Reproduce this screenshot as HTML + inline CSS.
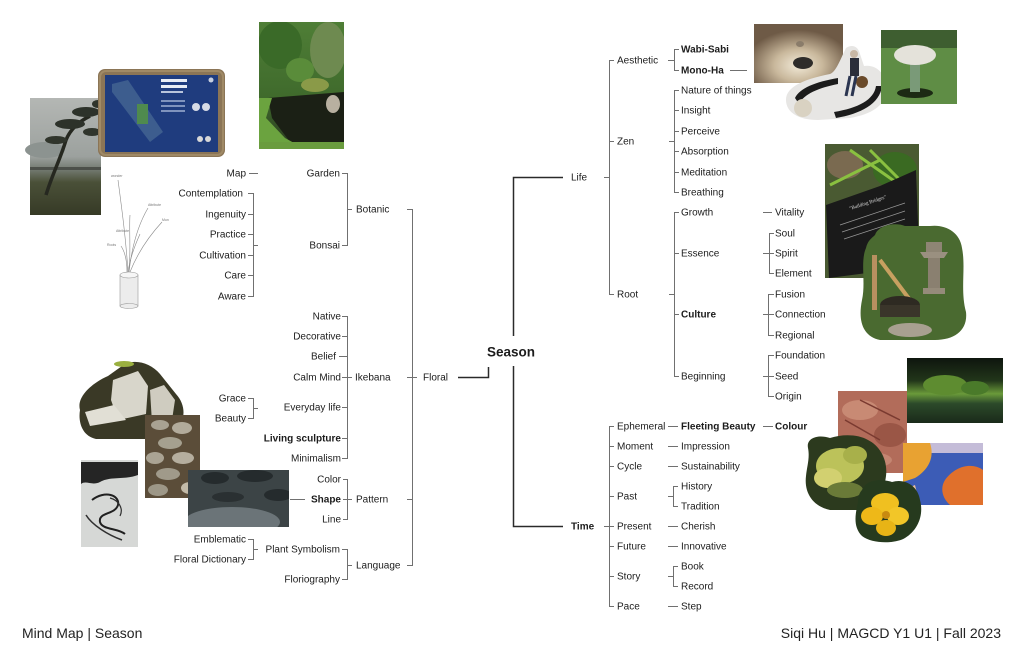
<!DOCTYPE html>
<html><head><meta charset="utf-8"><style>
html,body{margin:0;padding:0;background:#fff;}
svg{display:block}
.t{font-family:"Liberation Sans",sans-serif;font-size:10px;fill:#1c1c1c}
.b{font-weight:bold}
.e{text-anchor:end}
.g{stroke:#707070;stroke-width:1;fill:none}
.d{stroke:#2a2a2a;stroke-width:1.5;fill:none}
.s{stroke:#8a8a8a;stroke-width:0.6;fill:none}
.tiny{font-family:"Liberation Sans",sans-serif;font-size:3.5px;fill:#777}
.f{font-family:"Liberation Sans",sans-serif;font-size:14px;fill:#222}
</style></head><body>
<svg width="1024" height="663" viewBox="0 0 1024 663" xmlns="http://www.w3.org/2000/svg">
<defs>
<linearGradient id="gTree" x1="0" y1="0" x2="0" y2="1">
<stop offset="0" stop-color="#b4b7b4"/><stop offset="0.5" stop-color="#9ca19e"/><stop offset="0.62" stop-color="#6f766c"/><stop offset="0.72" stop-color="#4a5038"/><stop offset="1" stop-color="#363a26"/>
</linearGradient>
<radialGradient id="gRoom" cx="0.5" cy="0.7" r="0.6">
<stop offset="0" stop-color="#f2ead8"/><stop offset="0.45" stop-color="#c9b89c"/><stop offset="1" stop-color="#6e5a46"/>
</radialGradient>
<linearGradient id="gLake" x1="0" y1="0" x2="0" y2="1">
<stop offset="0" stop-color="#0e150e"/><stop offset="0.35" stop-color="#22361a"/><stop offset="0.55" stop-color="#6a9a3a"/><stop offset="0.7" stop-color="#2c4a2a"/><stop offset="1" stop-color="#1a2a1a"/>
</linearGradient>
<linearGradient id="gGarden" x1="0" y1="0" x2="0" y2="1">
<stop offset="0" stop-color="#4f7e36"/><stop offset="0.6" stop-color="#3f6a2c"/><stop offset="1" stop-color="#2a3a20"/>
</linearGradient>
<clipPath id="cLand"><rect x="188" y="470" width="101" height="57"/></clipPath>
<clipPath id="cGarden"><rect x="259" y="22" width="85" height="127"/></clipPath>
<clipPath id="cPaint"><rect x="903" y="443" width="80" height="62"/></clipPath>
<clipPath id="cPlaque"><rect x="825" y="144" width="94" height="134"/></clipPath>
<clipPath id="cMaple"><rect x="838" y="391" width="69" height="82"/></clipPath>
</defs>

<!-- ============ LEFT IMAGES ============ -->
<rect x="30" y="98" width="71" height="117" fill="url(#gTree)"/>
<ellipse cx="45" cy="150" rx="20" ry="8" fill="#8c9390"/>
<rect x="30" y="167" width="71" height="3" fill="#4c504a"/>
<path d="M46,195 C52,175 60,160 66,140 C70,130 78,122 90,116" stroke="#262820" stroke-width="3.5" fill="none"/>
<ellipse cx="70" cy="124" rx="15" ry="5" fill="#2d322a"/>
<ellipse cx="86" cy="112" rx="14" ry="5" fill="#2d322a"/>
<ellipse cx="56" cy="140" rx="11" ry="4" fill="#30352c"/>
<ellipse cx="92" cy="132" rx="9" ry="4" fill="#30352c"/>
<ellipse cx="98" cy="104" rx="6" ry="4" fill="#30352c"/>

<rect x="98" y="69" width="127" height="88" rx="7" fill="#8b7556"/>
<rect x="100" y="71" width="123" height="84" rx="6" fill="none" stroke="#a08a66" stroke-width="2"/>
<rect x="105" y="75" width="113" height="77" fill="#1f3c7e"/>
<polygon points="112,84 128,80 163,132 150,142 112,92" fill="#3d5d8e"/>
<rect x="137" y="104" width="11" height="20" fill="#4f8a4e"/>
<rect x="161" y="79" width="26" height="3" fill="#e8ecf4"/>
<rect x="161" y="85" width="26" height="3" fill="#e8ecf4"/>
<rect x="161" y="91" width="22" height="2" fill="#b8c4dc"/>
<rect x="161" y="100" width="24" height="2" fill="#7f93bd"/>
<rect x="161" y="105" width="24" height="2" fill="#7f93bd"/>
<rect x="161" y="110" width="24" height="2" fill="#7f93bd"/>
<circle cx="196" cy="107" r="4" fill="#d6dbe6"/>
<circle cx="206" cy="107" r="4" fill="#d6dbe6"/>
<circle cx="200" cy="139" r="3" fill="#d8d8d8"/>
<circle cx="208" cy="139" r="3" fill="#d8d8d8"/>
<circle cx="211" cy="80" r="2.5" fill="#c8d0e0"/>

<g clip-path="url(#cGarden)">
<rect x="259" y="22" width="85" height="127" fill="url(#gGarden)"/>
<ellipse cx="280" cy="45" rx="22" ry="24" fill="#3a6a28"/>
<ellipse cx="300" cy="70" rx="14" ry="12" fill="#5a8c3a"/>
<ellipse cx="328" cy="50" rx="18" ry="28" fill="#6e8a50"/>
<ellipse cx="315" cy="85" rx="14" ry="7" fill="#8a9a48"/>
<path d="M268,98 L344,92 L344,142 L290,142 L272,118 Z" fill="#1b2015"/>
<polygon points="259,98 272,98 266,118 285,138 305,149 259,149" fill="#6ba33f"/>
<rect x="259" y="142" width="85" height="7" fill="#6a9c3e"/>
<ellipse cx="333" cy="104" rx="7" ry="9" fill="#b8b0a0"/>
</g>

<path class="s" d="M128,272 C126,240 122,210 118,180"/>
<path class="s" d="M129,272 C132,245 138,225 148,208"/>
<path class="s" d="M130,272 C138,252 150,235 162,222"/>
<path class="s" d="M128,272 C130,258 135,245 140,234"/>
<path class="s" d="M127,272 C127,262 125,252 121,246"/>
<path class="s" d="M129,272 C131,250 129,230 130,215"/>
<text class="tiny" x="111" y="177">wonder</text>
<text class="tiny" x="148" y="206">Attribute</text>
<text class="tiny" x="162" y="221">Mun</text>
<text class="tiny" x="116" y="232">Attribute</text>
<text class="tiny" x="107" y="246">Roots</text>
<rect x="120" y="275" width="18" height="31" fill="#ececec" stroke="#999" stroke-width="0.6"/>
<ellipse cx="129" cy="275" rx="9" ry="3" fill="#f6f6f6" stroke="#999" stroke-width="0.6"/>
<ellipse cx="129" cy="306" rx="9" ry="2.5" fill="#ececec" stroke="#999" stroke-width="0.6"/>

<path d="M80,410 C76,396 94,382 108,376 L122,366 C132,358 150,362 160,374 L176,394 C186,405 186,420 176,430 L150,439 L96,439 C82,436 78,422 80,410Z" fill="#3a3926"/>
<ellipse cx="124" cy="364" rx="10" ry="3" fill="#9ab040"/>
<path d="M113,380 L138,371 L148,386 L146,414 L118,420 L111,400Z" fill="#d8d6cb"/>
<path d="M150,390 L164,385 L175,400 L172,420 L152,423Z" fill="#cfccc0"/>
<path d="M85,412 L114,405 L126,420 L90,426Z" fill="#e1dfd5"/>

<rect x="145" y="415" width="55" height="83" fill="#5b4d39"/>
<ellipse cx="160" cy="425" rx="9" ry="5" fill="#a9a292"/>
<ellipse cx="182" cy="428" rx="10" ry="6" fill="#b2ab9b"/>
<ellipse cx="170" cy="443" rx="12" ry="6" fill="#a5a08f"/>
<ellipse cx="155" cy="458" rx="9" ry="6" fill="#aaa393"/>
<ellipse cx="183" cy="458" rx="11" ry="6" fill="#b5ae9e"/>
<ellipse cx="168" cy="474" rx="12" ry="6" fill="#a09a8a"/>
<ellipse cx="190" cy="488" rx="9" ry="6" fill="#c2baa8"/>
<ellipse cx="158" cy="490" rx="10" ry="6" fill="#9d9787"/>

<g clip-path="url(#cLand)">
<rect x="188" y="470" width="101" height="57" fill="#3c4446"/>
<ellipse cx="215" cy="478" rx="14" ry="6" fill="#252b2d"/>
<ellipse cx="255" cy="476" rx="18" ry="6" fill="#252b2d"/>
<ellipse cx="278" cy="495" rx="14" ry="6" fill="#252b2d"/>
<ellipse cx="228" cy="497" rx="16" ry="5" fill="#2a3032"/>
<ellipse cx="232" cy="522" rx="48" ry="15" fill="#6b7478"/>
</g>

<rect x="81" y="460" width="57" height="87" fill="#d6d8d6"/>
<path d="M81,462 L138,462 L138,475 C125,480 110,476 100,482 C92,486 86,480 81,484Z" fill="#252525"/>
<path d="M92,500 C105,490 120,495 118,505 C115,515 98,512 100,522 C102,530 118,528 125,534" stroke="#202020" stroke-width="2" fill="none"/>
<path d="M86,515 C92,525 108,535 122,540" stroke="#303030" stroke-width="1.5" fill="none"/>
<path d="M110,498 C118,500 124,508 120,516" stroke="#303030" stroke-width="1.2" fill="none"/>

<!-- ============ RIGHT IMAGES ============ -->
<rect x="754" y="24" width="89" height="59" fill="url(#gRoom)"/>
<ellipse cx="803" cy="63" rx="10" ry="6" fill="#2e2c2a"/>
<ellipse cx="800" cy="44" rx="4" ry="3" fill="#8a7c6a"/>

<path d="M786,100 C786,88 800,80 830,74 C836,72 840,60 846,48 C852,44 858,46 860,54 L864,66 C876,64 888,74 886,92 C884,106 872,114 850,118 L818,120 C798,120 786,112 786,100Z" fill="#e7e6e4"/>
<path d="M795,98 C800,88 815,82 838,78 L838,84 C818,88 804,94 799,104Z" fill="#1c1c1c"/>
<path d="M836,118 C860,114 880,104 882,86 L876,86 C874,100 858,108 834,112Z" fill="#1c1c1c"/>
<rect x="850" y="58" width="9" height="18" fill="#2b2e3a"/>
<circle cx="854" cy="54" r="4" fill="#c9b8a6"/>
<ellipse cx="862" cy="82" rx="6" ry="6" fill="#6a4a2a"/>
<path d="M850,76 L846,96 M856,76 L852,96" stroke="#2b3550" stroke-width="3"/>
<ellipse cx="803" cy="108" rx="9" ry="9" fill="#d9d2c2"/>

<rect x="881" y="30" width="76" height="74" fill="#5f8d45"/>
<rect x="881" y="30" width="76" height="18" fill="#3e5e30"/>
<ellipse cx="915" cy="93" rx="18" ry="5" fill="#1c2a14"/>
<rect x="910" y="60" width="10" height="32" fill="#7a9a78"/>
<ellipse cx="915" cy="55" rx="21" ry="10" fill="#e4e2da"/>

<g clip-path="url(#cPlaque)">
<rect x="825" y="144" width="94" height="134" fill="#4a5a32"/>
<ellipse cx="845" cy="165" rx="18" ry="14" fill="#7a6a50"/>
<ellipse cx="895" cy="170" rx="22" ry="18" fill="#3a6a22"/>
<path d="M850,150 L900,185 M870,150 L915,195 M830,185 L880,160" stroke="#8ac040" stroke-width="3"/>
<polygon points="826,205 880,186 916,170 919,250 905,268 829,278" fill="#1a1a1a"/>
<text x="850" y="210" font-family="Liberation Serif,serif" font-size="5" fill="#ddd" transform="rotate(-18 850 210)">"Building Bridges"</text>
<path d="M840,225 L905,203 M842,232 L905,211 M844,239 L905,219" stroke="#9a9a9a" stroke-width="0.7"/>
</g>

<path d="M875,235 C878,225 895,222 905,226 L930,226 C945,224 960,232 962,248 C966,268 960,290 966,312 C968,330 955,340 935,340 L880,340 C862,336 858,320 862,300 C866,282 860,262 866,248 C868,240 872,238 875,235Z" fill="#4a6a30"/>
<rect x="926" y="242" width="16" height="10" fill="#8e8574"/>
<polygon points="920,252 948,252 944,258 924,258" fill="#9a9080"/>
<rect x="928" y="258" width="12" height="30" fill="#8a8070"/>
<rect x="923" y="288" width="22" height="6" fill="#958b7a"/>
<path d="M880,260 L910,300" stroke="#c8a060" stroke-width="4"/>
<rect x="872" y="255" width="5" height="55" fill="#b89060"/>
<ellipse cx="900" cy="305" rx="20" ry="9" fill="#2e2a22"/>
<rect x="880" y="305" width="40" height="12" fill="#3a352a"/>
<ellipse cx="910" cy="330" rx="22" ry="7" fill="#a8a090"/>

<rect x="907" y="358" width="96" height="65" fill="url(#gLake)"/>
<ellipse cx="945" cy="385" rx="22" ry="10" fill="#5e8c30"/>
<ellipse cx="975" cy="388" rx="14" ry="7" fill="#4a7a2a"/>

<g clip-path="url(#cMaple)">
<rect x="838" y="391" width="69" height="82" fill="#b26c5a"/>
<ellipse cx="860" cy="410" rx="18" ry="10" fill="#c88a74"/>
<ellipse cx="890" cy="435" rx="16" ry="12" fill="#9a5646"/>
<ellipse cx="870" cy="460" rx="22" ry="8" fill="#c48672"/>
<path d="M845,420 L880,440 M860,400 L900,420" stroke="#7a3a30" stroke-width="1.5"/>
</g>

<path d="M808,448 C806,438 818,434 830,438 C842,434 858,434 868,440 C880,446 888,460 886,476 C884,492 878,505 862,510 L830,510 C812,506 804,492 806,476 C807,466 810,458 808,448Z" fill="#2c3a1e"/>
<ellipse cx="840" cy="466" rx="24" ry="18" fill="#bcc25a"/>
<ellipse cx="828" cy="478" rx="14" ry="10" fill="#d2d070"/>
<ellipse cx="855" cy="455" rx="12" ry="9" fill="#a8b04a"/>
<ellipse cx="845" cy="490" rx="18" ry="8" fill="#6a7a38"/>

<g clip-path="url(#cPaint)">
<rect x="903" y="443" width="80" height="62" fill="#3c5cb6"/>
<rect x="903" y="443" width="80" height="10" fill="#c4bcd8"/>
<path d="M903,443 L930,443 C935,458 928,470 915,478 L903,482Z" fill="#e8a232"/>
<path d="M945,480 C955,466 972,462 983,470 L983,505 L950,505 C942,498 940,488 945,480Z" fill="#e0702c"/>
<path d="M903,490 L915,485 L920,505 L903,505Z" fill="#e8c0a0"/>
</g>

<path d="M862,490 C866,480 880,478 892,482 C905,478 918,486 920,500 C924,515 918,530 905,538 C895,544 872,544 862,536 C852,526 856,512 858,502 C858,496 860,492 862,490Z" fill="#263a1e"/>
<ellipse cx="885" cy="503" rx="14" ry="10" fill="#f0c020"/>
<ellipse cx="872" cy="516" rx="11" ry="9" fill="#eeb818"/>
<ellipse cx="898" cy="516" rx="11" ry="9" fill="#f2c628"/>
<ellipse cx="886" cy="528" rx="10" ry="8" fill="#e8b416"/>
<circle cx="886" cy="515" r="4" fill="#c88a10"/>

<!-- ============ CONNECTORS ============ -->
<path class="g" d="M249,173.5H258"/>
<path class="g" d="M342,173.5H347.5V245.5H342 M347.5,209.5H352"/>
<path class="g" d="M248,193.5H253.5V296.5H248 M248,214.5H253.5 M248,234.5H253.5 M248,255.5H253.5 M248,275.5H253.5 M253.5,245.5H258"/>
<path class="g" d="M407,209.5H412.5V565.5H407 M407,377.5H417 M407,499.5H412.5"/>
<path class="g" d="M342,316.5H347.5V458.5H342 M342,336.5H347.5 M339,356.5H347.5 M342,377.5H352 M342,407.5H347.5 M342,438.5H347.5"/>
<path class="g" d="M248,398.5H253.5V418.5H248 M253.5,408.5H258"/>
<path class="g" d="M343,479.5H347.5V519.5H343 M343,499.5H352 M290,499.5H305"/>
<path class="g" d="M248,539.5H253.5V559.5H248 M253.5,549.5H258"/>
<path class="g" d="M342,549.5H347.5V579.5H342 M347.5,565.5H352"/>
<path class="d" d="M458,377.5H488.5V367"/>
<path class="d" d="M513.5,336V177.5H563"/>
<path class="d" d="M513.5,366V526.5H563"/>
<path class="g" d="M604,177.5H609.5 M614,60.5H609.5V294.5H614 M609.5,141.5H614"/>
<path class="g" d="M668,60.5H674.5 M679,49.5H674.5V70.5H679 M730,70.5H747"/>
<path class="g" d="M669,141.5H674.5 M679,90.5H674.5V192.5H679 M674.5,110.5H679 M674.5,131.5H679 M674.5,151.5H679 M674.5,172.5H679"/>
<path class="g" d="M669,294.5H674.5 M679,212.5H674.5V376.5H679 M674.5,253.5H679 M674.5,314.5H679"/>
<path class="g" d="M763,212.5H772"/>
<path class="g" d="M774,233.5H769.5V273.5H774 M763,253.5H774"/>
<path class="g" d="M774,294.5H768.5V335.5H774 M763,314.5H774"/>
<path class="g" d="M774,355.5H768.5V396.5H774 M763,376.5H774"/>
<path class="g" d="M604,526.5H609.5 M614,426.5H609.5V606.5H614 M609.5,446.5H614 M609.5,466.5H614 M609.5,496.5H614 M609.5,526.5H614 M609.5,546.5H614 M609.5,576.5H614"/>
<path class="g" d="M668,426.5H678 M763,426.5H773 M668,446.5H678 M668,466.5H678 M668,526.5H678 M668,546.5H678 M668,606.5H678"/>
<path class="g" d="M668,496.5H673.5 M678,486.5H673.5V506.5H678"/>
<path class="g" d="M668,576.5H673.5 M678,566.5H673.5V586.5H678"/>

<!-- ============ TEXT LEFT ============ -->
<text class="t e" x="246" y="176.5">Map</text>
<text class="t e" x="340" y="176.5">Garden</text>
<text class="t e" x="243" y="196.5">Contemplation</text>
<text class="t e" x="246" y="217.5">Ingenuity</text>
<text class="t e" x="246" y="237.5">Practice</text>
<text class="t e" x="246" y="258.5">Cultivation</text>
<text class="t e" x="246" y="278.5">Care</text>
<text class="t e" x="246" y="299.5">Aware</text>
<text class="t e" x="340" y="248.5">Bonsai</text>
<text class="t" x="356" y="212.5">Botanic</text>
<text class="t e" x="341" y="319.5">Native</text>
<text class="t e" x="341" y="339.5">Decorative</text>
<text class="t e" x="336" y="359.5">Belief</text>
<text class="t e" x="341" y="380.5">Calm Mind</text>
<text class="t" x="355" y="380.5">Ikebana</text>
<text class="t e" x="246" y="401.5">Grace</text>
<text class="t e" x="246" y="421.5">Beauty</text>
<text class="t e" x="341" y="410.5">Everyday life</text>
<text class="t b e" x="341" y="441.5">Living sculpture</text>
<text class="t e" x="341" y="461.5">Minimalism</text>
<text class="t e" x="341" y="482.5">Color</text>
<text class="t b e" x="341" y="502.5">Shape</text>
<text class="t e" x="341" y="522.5">Line</text>
<text class="t" x="356" y="502.5">Pattern</text>
<text class="t e" x="246" y="542.5">Emblematic</text>
<text class="t e" x="246" y="562.5">Floral Dictionary</text>
<text class="t e" x="340" y="552.5">Plant Symbolism</text>
<text class="t e" x="340" y="582.5">Floriography</text>
<text class="t" x="356" y="568.5">Language</text>
<text class="t" x="423" y="380.5">Floral</text>

<text class="t b" x="511" y="356.5" text-anchor="middle" style="font-size:13.5px">Season</text>

<!-- ============ TEXT RIGHT ============ -->
<text class="t" x="571" y="180.5">Life</text>
<text class="t b" x="571" y="529.5">Time</text>

<text class="t" x="617" y="63.5">Aesthetic</text>
<text class="t" x="617" y="144.5">Zen</text>
<text class="t" x="617" y="297.5">Root</text>

<text class="t b" x="681" y="52.5">Wabi-Sabi</text>
<text class="t b" x="681" y="73.5">Mono-Ha</text>
<text class="t" x="681" y="93.5">Nature of things</text>
<text class="t" x="681" y="113.5">Insight</text>
<text class="t" x="681" y="134.5">Perceive</text>
<text class="t" x="681" y="154.5">Absorption</text>
<text class="t" x="681" y="175.5">Meditation</text>
<text class="t" x="681" y="195.5">Breathing</text>
<text class="t" x="681" y="215.5">Growth</text>
<text class="t" x="681" y="256.5">Essence</text>
<text class="t b" x="681" y="317.5">Culture</text>
<text class="t" x="681" y="379.5">Beginning</text>

<text class="t" x="775" y="215.5">Vitality</text>
<text class="t" x="775" y="236.5">Soul</text>
<text class="t" x="775" y="256.5">Spirit</text>
<text class="t" x="775" y="276.5">Element</text>
<text class="t" x="775" y="297.5">Fusion</text>
<text class="t" x="775" y="317.5">Connection</text>
<text class="t" x="775" y="338.5">Regional</text>
<text class="t" x="775" y="358.5">Foundation</text>
<text class="t" x="775" y="379.5">Seed</text>
<text class="t" x="775" y="399.5">Origin</text>

<text class="t" x="617" y="429.5">Ephemeral</text>
<text class="t" x="617" y="449.5">Moment</text>
<text class="t" x="617" y="469.5">Cycle</text>
<text class="t" x="617" y="499.5">Past</text>
<text class="t" x="617" y="529.5">Present</text>
<text class="t" x="617" y="549.5">Future</text>
<text class="t" x="617" y="579.5">Story</text>
<text class="t" x="617" y="609.5">Pace</text>

<text class="t b" x="681" y="429.5">Fleeting Beauty</text>
<text class="t b" x="775" y="429.5">Colour</text>
<text class="t" x="681" y="449.5">Impression</text>
<text class="t" x="681" y="469.5">Sustainability</text>
<text class="t" x="681" y="489.5">History</text>
<text class="t" x="681" y="509.5">Tradition</text>
<text class="t" x="681" y="529.5">Cherish</text>
<text class="t" x="681" y="549.5">Innovative</text>
<text class="t" x="681" y="569.5">Book</text>
<text class="t" x="681" y="589.5">Record</text>
<text class="t" x="681" y="609.5">Step</text>

<text class="f" x="22" y="638">Mind Map | Season</text>
<text class="f" x="1001" y="638" text-anchor="end">Siqi Hu | MAGCD Y1 U1 | Fall 2023</text>
</svg>
</body></html>
